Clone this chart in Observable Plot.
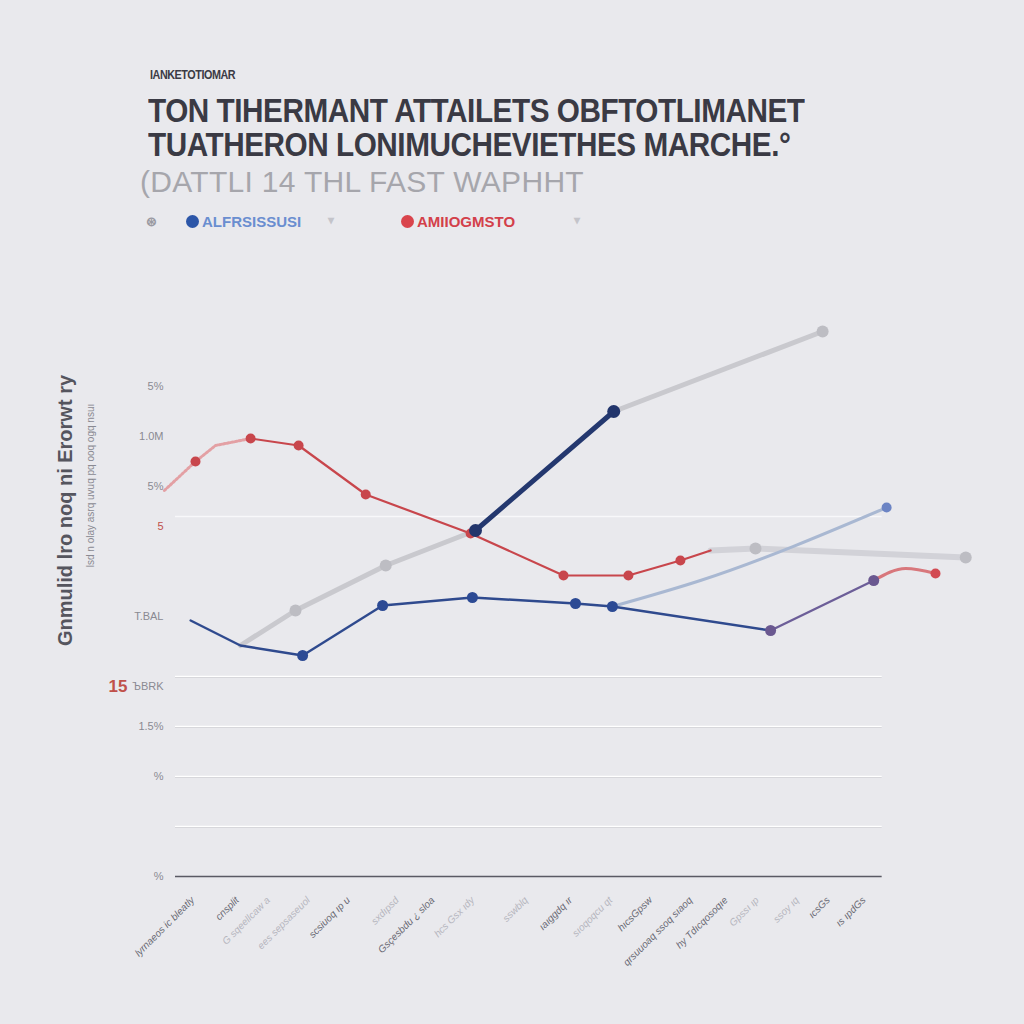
<!DOCTYPE html>
<html>
<head>
<meta charset="utf-8">
<script src="https://cdn.jsdelivr.net/npm/d3@7"></script>
<script src="https://cdn.jsdelivr.net/npm/@observablehq/plot@0.6"></script>
<style>
  html, body { margin: 0; padding: 0; background: #e9e9ed; }
  body { width: 1024px; height: 1024px; position: relative; overflow: hidden; font-family: "Liberation Sans", Arial, sans-serif; }
  .kicker { position: absolute; left: 150px; top: 68px; font-size: 12px; font-weight: bold; color: #3b3b45; letter-spacing: -0.5px; transform: scaleX(0.9); transform-origin: left; }
  .title { position: absolute; left: 148px; top: 94px; font-size: 33px; line-height: 34px; font-weight: bold; color: #3a3a44; letter-spacing: -0.5px; transform: scaleX(0.9); transform-origin: left top; white-space: nowrap; }
  .subtitle { position: absolute; left: 140px; top: 165px; font-size: 30px; color: #a6a6ac; letter-spacing: 0.3px; white-space: nowrap; }
  .legend { position: absolute; left: 146px; top: 213px; font-size: 15px; font-weight: bold; }
  .legend .item { position: absolute; white-space: nowrap; top: 0; }
  .dot { width: 13px; height: 13px; border-radius: 50%; display: inline-block; vertical-align: -1px; margin-right: 3px; }
  #chart { position: absolute; left: 0; top: 250px; }
</style>
</head>
<body>
<div class="kicker" id="kicker"></div>
<div class="title" id="title"></div>
<div class="subtitle" id="subtitle"></div>
<div class="legend" id="legend"></div>
<div id="chart"></div>
<script>
// ---- text ----
const kickerText = "IANKETOTIOMAR";
const titleLines = ["TON TIHERMANT ATTAILETS OBFTOTLIMANET", "TUATHERON LONIMUCHEVIETHES MARCHE.°"];
const subtitleText = "(DATTLI 14 THL FAST WAPHHT";
const legendNames = ["ALFRSISSUSI", "AMIIOGMSTO"];
const yTitle = "Gnmulid lro noq ni Erorwt ry";
const yTitle2 = "lsd n olay asrq uvuq pq ooq ogq nsuı";

// ---- y ticks ----
const yTickValues = [0, 10, 15, 19, 26, 35, 39, 44, 49];
const yTickLabels = ["%", "%", "1.5%", "ЪBRK", "T.BAL", "5", "5%", "1.0M", "5%"];
const redTickValues = [19];
const redTickLabels = ["15"];
const gridValues = [5, 10, 15, 20];
const faintGrid = [36];

// ---- x labels ----
const xLabelPos = [0.3, 1.3, 2.0, 2.9, 3.8, 4.9, 5.7, 6.6, 7.8, 8.8, 9.7, 10.6, 11.5, 12.3, 13.0, 13.9, 14.6, 15.4];
const xLabelText = ["lyrnaeos ic bleatly", "cnsplit", "G sqeellcaw a", "ees sepsaseuol", "scsiuoq ıp u",
  "sxdıpsd", "Gsçesbdu ¿ sloa", "hcs Gsx ıdy", "sswblq", "ıaıggdq ır", "sıoqoqcu qt", "hıcsGpsw",
  "qrsuuoaq ssoq sıaoq", "hy Tdıcqosoqıe", "Gpssı ıp", "ssoy ıq", "ıcsGs", "ıs ıpdGs"];
const xLabelDark = [true, true, false, false, true, false, true, false, false, true, false, true, true, true, false, false, true, true];

// ---- series (x in period index, y in %) ----
const redFadeX = [-0.25, 0.45, 0.9, 1.69];
const redFadeY = [38.6, 41.5, 43.1, 43.8];
const redX = [1.69, 2.77, 4.28, 6.64, 8.73, 10.19, 11.36, 12.04];
const redY = [43.8, 43.1, 38.2, 34.3, 30.1, 30.1, 31.6, 32.6];
const red2X = [15.71, 16.43, 17.1];
const red2Y = [29.6, 30.8, 30.3];
const blueX = [0.34, 1.46, 2.86, 4.66, 6.68, 9.0, 9.83, 13.39];
const blueY = [25.6, 23.1, 22.1, 27.1, 27.9, 27.3, 27.0, 24.6];
const purpleX = [13.39, 15.71];
const purpleY = [24.6, 29.6];
const surgeX = [6.75, 9.86];
const surgeY = [34.6, 46.5];
const greyAX = [1.46, 2.7, 4.73, 6.75];
const greyAY = [23.1, 26.6, 31.1, 34.6];
const greyBX = [9.86, 14.56];
const greyBY = [46.5, 54.5];
const greyCX = [12.04, 13.05, 17.78];
const greyCY = [32.6, 32.8, 31.9];
const lightX = [9.83, 11.81, 16.0];
const lightY = [27.0, 29.6, 36.9];

const toRows = (xs, ys) => xs.map((x, i) => ({x, y: ys[i]}));

// header
document.getElementById("kicker").textContent = kickerText;
document.getElementById("title").innerHTML = titleLines.join("<br>");
document.getElementById("subtitle").textContent = subtitleText;
const leg = document.getElementById("legend");
leg.innerHTML = `
  <div class="item" style="left:0;top:1px;color:#9a9aa2;font-size:13px">⊛</div>
  <div class="item" style="left:40px"><span class="dot" style="background:#2c56a8"></span><span style="color:#6a8ed0">${legendNames[0]}</span></div>
  <div class="item" style="left:182px;color:#c4c4ca;font-size:12px">▾</div>
  <div class="item" style="left:255px"><span class="dot" style="background:#d9444c"></span><span style="color:#d3404a">${legendNames[1]}</span></div>
  <div class="item" style="left:428px;color:#c4c4ca;font-size:12px">▾</div>`;

const xLabels = xLabelPos.map((x, i) => ({x, t: xLabelText[i], dark: xLabelDark[i]}));
const yTickRows = yTickValues.map((v, i) => ({v, t: yTickLabels[i]}));
const redTickRows = redTickValues.map((v, i) => ({v, t: redTickLabels[i]}));

const chart = Plot.plot({
  width: 1024,
  height: 730,
  marginLeft: 175,
  marginRight: 49,
  marginTop: 26,
  marginBottom: 104,
  style: {background: "transparent", fontFamily: "Liberation Sans, Arial, sans-serif"},
  x: {domain: [0, 18], axis: null},
  y: {domain: [0, 60], axis: null},
  marks: [
    Plot.ruleY(gridValues, {x1: 0, x2: 15.9, stroke: "#ffffff", strokeWidth: 1.5}),
    Plot.ruleY(gridValues, {x1: 0, x2: 15.9, stroke: "#d0d0d6", strokeWidth: 0.8, dy: 1}),
    Plot.ruleY(faintGrid, {x1: 0, x2: 15.9, stroke: "#f8f8fa", strokeWidth: 1.5}),
    Plot.ruleY([0], {x1: 0, x2: 15.9, stroke: "#5a5a64", strokeWidth: 1.3}),
    // y tick labels
    Plot.text(yTickRows, {x: 0, y: "v", text: "t", textAnchor: "end", dx: -12, fontSize: 11,
      fill: d => d.t === "5" ? "#c0504a" : "#8a8a92"}),
    Plot.text(redTickRows, {x: 0, y: "v", text: "t", textAnchor: "end", dx: -48, fontSize: 17, fontWeight: "bold", fill: "#c0504a"}),
    // y title
    Plot.text([yTitle], {frameAnchor: "left", y: 36.6, dx: -110, rotate: -90, textAnchor: "middle", fontSize: 20, fontWeight: "bold", fill: "#55555e"}),
    Plot.text([yTitle2], {frameAnchor: "left", y: 39.1, dx: -85, rotate: -90, textAnchor: "middle", fontSize: 10, fill: "#8a8a92"}),
    // x labels
    Plot.text(xLabels, {x: "x", y: 0, text: "t", rotate: -45, textAnchor: "end", dy: 22, dx: 4, fontSize: 10, fontStyle: "italic",
      fill: d => d.dark ? "#6a6a74" : "#b6b6be"}),
    // grey lines
    Plot.line(toRows(greyAX, greyAY), {x: "x", y: "y", stroke: "#c9c9ce", strokeWidth: 5, strokeLinecap: "round"}),
    Plot.line(toRows(greyBX, greyBY), {x: "x", y: "y", stroke: "#c9c9ce", strokeWidth: 5, strokeLinecap: "round"}),
    Plot.line(toRows(greyCX, greyCY), {x: "x", y: "y", stroke: "#d2d2d8", strokeWidth: 6, strokeLinecap: "round"}),
    // light blue
    Plot.line(toRows(lightX, lightY), {x: "x", y: "y", stroke: "#a9b8d2", strokeWidth: 3, curve: "monotone-x"}),
    // red
    Plot.line(toRows(redFadeX, redFadeY), {x: "x", y: "y", stroke: "#e3a0a4", strokeWidth: 3, strokeDasharray: "2,2"}),
    Plot.line(toRows(redX, redY), {x: "x", y: "y", stroke: "#c8464c", strokeWidth: 2.2}),
    Plot.line(toRows(red2X, red2Y), {x: "x", y: "y", stroke: "#d8777c", strokeWidth: 3, curve: "monotone-x"}),
    // blue
    Plot.line(toRows(blueX, blueY), {x: "x", y: "y", stroke: "#2f4a8e", strokeWidth: 2.4}),
    Plot.line(toRows(purpleX, purpleY), {x: "x", y: "y", stroke: "#6c5e98", strokeWidth: 2.4}),
    Plot.line(toRows(surgeX, surgeY), {x: "x", y: "y", stroke: "#24386f", strokeWidth: 5}),
    // markers
    Plot.dot(toRows(greyAX.slice(1, 3), greyAY.slice(1, 3)).concat(toRows(greyBX.slice(1), greyBY.slice(1)), toRows(greyCX.slice(1), greyCY.slice(1))),
      {x: "x", y: "y", r: 6, fill: "#bdbdc3"}),
    Plot.dot(toRows(lightX.slice(2), lightY.slice(2)), {x: "x", y: "y", r: 5, fill: "#6c84c4"}),
    Plot.dot(toRows(redX.slice(0, 7), redY.slice(0, 7)).concat(toRows(redFadeX.slice(1, 2), redFadeY.slice(1, 2))), {x: "x", y: "y", r: 5, fill: "#c8464c"}),
    Plot.dot(toRows(red2X.slice(2), red2Y.slice(2)), {x: "x", y: "y", r: 5, fill: "#d24a52"}),
    Plot.dot(toRows(blueX.slice(2, 7), blueY.slice(2, 7)), {x: "x", y: "y", r: 5.5, fill: "#2c4a94"}),
    Plot.dot(toRows(purpleX, purpleY), {x: "x", y: "y", r: 5.5, fill: "#6a5890"}),
    Plot.dot(toRows(surgeX, surgeY), {x: "x", y: "y", r: 6.5, fill: "#22356c"})
  ]
});
document.getElementById("chart").appendChild(chart);
</script>
</body>
</html>
